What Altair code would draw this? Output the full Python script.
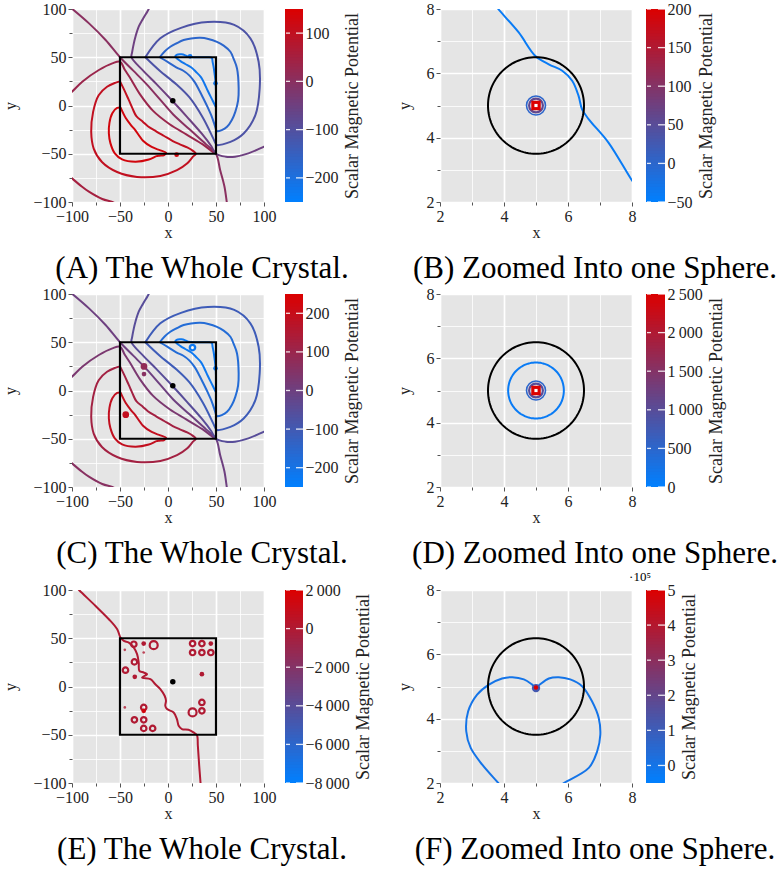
import altair as alt
import numpy as np
import pandas as pd

FONT = "Liberation Serif, DejaVu Serif, serif"
BLUE, RED = "#0080ff", "#dc0000"
PLOT_W, PLOT_H = 192, 193

# ------------------------------------------------------------------ data
# Whole crystal (panels A and C): contour polylines, (x, y)
cr_inner_red = [(-49.5, -2), (-44, -13), (-38, -21), (-34.5, -25), (-26, -36.5), (-17, -43),
                (-8, -46.5), (-2, -49), (-4, -51.5), (-9, -52), (-12, -52.5), (-20, -56),
                (-34, -58.2), (-47.8, -55.8), (-55.4, -49.6), (-60, -39), (-61.6, -29),
                (-61, -18), (-58, -8), (-53, -2.5), (-49.5, -2)]
cr_red2 = [(-50, 25), (-45.5, 16), (-41, 6), (-37, -3), (-33, -11), (-26, -17), (-21, -21.5),
           (-12, -27), (-4, -31.6), (5, -36.8), (13, -40.5), (20, -43.5), (26, -47), (29, -50),
           (26, -53), (19.8, -60.2), (9.4, -67), (-8, -73), (-32.3, -74), (-53, -68.9),
           (-68.8, -58.5), (-77.4, -44.6), (-80, -27.3), (-78, -6.6), (-72.2, 10.7),
           (-63.5, 19.4), (-55, 23.5), (-50, 25)]
cr_crimson_arc = [(-102, -74), (-100, -75.5), (-91, -83), (-82.4, -89.3), (-68.5, -96.9),
                  (-58, -100), (-54, -102)]
cr_d1 = [(-102, 13), (-100, 14.3), (-89.3, 24.7), (-72, 36.8), (-58, 43.7), (-50, 45.5),
         (-45, 37), (-39.7, 29), (-29.3, 11.8), (-15.5, -5.6), (1.7, -19.4), (19, -29.9),
         (36.2, -40.3), (48, -49), (50, -50)]
cr_d0 = [(-102, 102), (-82.3, 85.1), (-65, 67.9), (-50, 50), (-36.2, 36.1), (-22.4, 22.2),
         (-8.6, 6.6), (5.2, -9), (22.4, -24.7), (39.7, -40.3), (50, -50), (54.3, -66.8),
         (58.8, -84), (61.2, -100), (61.5, -102)]
cr_dm1 = [(-19.5, 102), (-20.1, 100), (-26, 90), (-30.5, 81.7), (-33.9, 71.3), (-35.6, 64.4),
          (-37.4, 55), (-38, 50), (-25.9, 36.1), (-12, 22.2), (4.5, 4.9), (20, -12),
          (35, -29), (45, -42), (50, -50), (60, -53), (69.9, -53), (83.7, -49.6),
          (100, -42.7), (102, -42)]
cr_outer_arc = [(-23.6, 50), (-8.6, 36), (8.6, 22), (22.4, 8.3), (36.2, -12.5), (46.6, -33),
                (50, -40), (51, -41), (65, -37.7), (78.8, -29), (91, -10), (95.5, 17.6),
                (94.4, 45.3), (85.8, 69.6), (69, 83.5), (41.5, 86.5), (13.5, 80.5),
                (-8, 69.6), (-23.6, 50)]
cr_arc2 = [(-8.6, 50), (0, 45), (8.6, 39.6), (16, 36), (22.4, 31), (28, 24), (32.8, 15.3),
           (37, 7), (41.4, -2), (45, -10), (48.3, -19.4), (50, -24.7), (51, -26.6),
           (56, -25.5), (61.5, -22.1), (66.5, -15), (70.1, -6.6), (73, 5), (73.6, 17.6),
           (71.9, 38.4), (68.5, 48), (65, 55.7), (58, 62), (51, 66), (42, 69), (33.7, 70.2),
           (24, 69.5), (16.3, 67.8), (9, 64.5), (2.4, 60.9), (-3.5, 56), (-8.6, 50)]
cr_arc3 = [(50, -2), (46.6, 4.9), (41.4, 15.3), (38, 22.5), (34.5, 29.2), (29, 35),
           (24, 39.6), (18, 43), (13, 46), (7.6, 50.6), (9, 52.5), (14, 53), (18, 52),
           (21, 50.5), (30, 50), (40, 50), (45.5, 49.5), (46.5, 45), (47.5, 40), (48.5, 33),
           (49.5, 25), (50, 15), (50, -2)]
crystal_shapes = [cr_inner_red, cr_red2, cr_crimson_arc, cr_d1, cr_d0, cr_dm1,
                  cr_outer_arc, cr_arc2, cr_arc3]
levels_a = [130, 100, 50, 30, 0, -50, -110, -170, -220]
levels_c = [190, 120, 60, 30, 0, -50, -110, -170, -220]

a_spots = [(23, 51), (49.5, 23), (9, -51)]
a_spot_levels = [-220, -220, 130]
c_rings = [(25.5, 44.5)]
c_ring_levels = [-220]
c_spots = [(49.5, 23), (-25, 17)]
c_spot_levels = [-220, 60]
c_blobs = [(-25, 25), (-44, -25)]
c_blob_levels = [80, 190]

crystal_cube = [(-50, 50)]          # x range = y range of the cube
crystal_centre = [(5, 5)]

# One sphere (panels B, D, F)
sphere_centre = (5, 5)
sphere_radius = 1.5
b_line = [(3.75, 8.1), (3.82, 8), (4.46, 7.27), (4.98, 6.54), (5.4, 6.28), (5.82, 6.08),
          (6.13, 5.77), (6.33, 5.3), (6.44, 4.88), (6.65, 4.57), (7.27, 3.84), (8, 2.67),
          (8.1, 2.55)]
b_line_level = -40
b_centre_levels = [0, 60, 200]
d_contour_radius = 0.87
d_contour_level = 100
d_centre_levels = [500, 1000, 2500]
f_line = [(3.9, 1.9), (3.82, 2), (3.32, 2.57), (2.96, 3.09), (2.82, 3.61), (2.88, 4.23),
          (3.16, 4.75), (3.53, 5.06), (3.94, 5.25), (4.26, 5.29), (4.62, 5.22), (4.88, 5.06),
          (5.0, 4.96), (5.12, 5.06), (5.4, 5.25), (5.71, 5.29), (6.07, 5.22), (6.44, 5.01),
          (6.75, 4.54), (6.96, 4.02), (7.01, 3.5), (6.91, 2.98), (6.65, 2.47), (5.87, 2),
          (5.78, 1.94)]
f_line_level = 0
f_centre_levels = [1.2, 5]

# Panel E
e_line = [(-95, 102.5), (-92.7, 100), (-75.4, 83.4), (-61.6, 69.7), (-52.9, 59.3),
          (-49.5, 50.7), (-46, 47.2), (-40.8, 45.5), (-35.6, 40.3), (-32.2, 33.5),
          (-30.5, 24.8), (-29.8, 16.2), (-25.3, 14.5), (-21.8, 12.8), (-27, 9.3),
          (-18.3, 7.6), (-13.2, 2.4), (-8, -2.7), (-3.5, -9.6), (-2.1, -14.8), (-2.8, -20),
          (-1, -23.4), (5.9, -26.9), (9.3, -33.8), (11.1, -40.7), (14.5, -44.1),
          (21.4, -44.8), (26.6, -47.6), (30.1, -50.3), (31.1, -61.4), (32.5, -82),
          (33.9, -100), (34, -102)]
e_line_level = 0
e_rings = [(-35.6, 43.8), (-35, 25.5), (-44.3, 16.9), (25.6, 44.5), (35.3, 44.5),
           (25.6, 35.2), (35.3, 35.2), (44.6, 35.2), (35.3, -16.5), (35.3, -25.2),
           (-25.3, -21.7), (-35, -34.5), (-25.3, -34.5), (-25.3, -43.4), (-16, -43.4)]
e_big_rings = [(-14.9, 42.8), (25.6, -26.9)]
e_dots = [(-25.3, 44.5), (-34.6, 10), (44.6, 44.5), (35.3, 12.8), (-25.3, -25.2)]
e_dot_levels = [0, 0, 0, 0, 1500]
e_tiny = [(-25.3, 35.2), (-45, 38), (-45, -21.7)]

# Colour bars
cb_a = ([-250, 150], [-200, -100, 0, 100])
cb_b = ([-50, 200], [-50, 0, 50, 100, 150, 200])
cb_c = ([-250, 250], [-200, -100, 0, 100, 200])
cb_d = ([0, 2500], [0, 500, 1000, 1500, 2000, 2500])
cb_e = ([-8000, 2000], [-8000, -6000, -4000, -2000, 0, 2000])
cb_f = ([-0.5, 5], [0, 1, 2, 3, 4, 5])

crystal_ticks = [-100, -75, -50, -25, 0, 25, 50, 75, 100]
sphere_ticks = [2, 3, 4, 5, 6, 7, 8]

captions = ["(A) The Whole Crystal.", "(B) Zoomed Into one Sphere.",
            "(C) The Whole Crystal.", "(D) Zoomed Into one Sphere.",
            "(E) The Whole Crystal.", "(F) Zoomed Into one Sphere."]
cb_title = "Scalar Magnetic Potential"


# ------------------------------------------------------------------ helpers
def lines_df(shapes, levels):
    rows = []
    for k, (pts, lev) in enumerate(zip(shapes, levels)):
        for i, (x, y) in enumerate(pts):
            rows.append({"line": k, "i": i, "x": float(x), "y": float(y), "level": lev})
    return pd.DataFrame(rows)


def pts_df(pts, levels):
    return pd.DataFrame({"x": [p[0] for p in pts], "y": [p[1] for p in pts],
                         "level": list(levels)})


def circle(center, r, n=120):
    t = np.linspace(0, 2 * np.pi, n + 1)
    return list(zip(center[0] + r * np.cos(t), center[1] + r * np.sin(t)))


def pos_axis(vals, step, orient, title):
    cond = f"datum.value % {step} == 0"
    return alt.Axis(
        orient=orient, title=title, values=vals, format="d",
        labelExpr=f"{cond} ? datum.label : ''",
        labelFlush=False, labelOverlap=False,
        grid=True, gridColor="white",
        gridWidth={"condition": {"test": cond, "value": 1.7}, "value": 0.8},
        tickSize={"condition": {"test": cond, "value": 4}, "value": 3},
        tickColor="#555", domain=False, labelPadding=2,
        titlePadding=14 if orient == "left" else 0,
    )


MARKS = {
    "ring": dict(shape="circle", filled=False, size=30, strokeWidth=2.2, opacity=1),
    "bigring": dict(shape="circle", filled=False, size=64, strokeWidth=2.2, opacity=1),
    "dot": dict(shape="circle", filled=True, size=22, opacity=1),
    "tiny": dict(shape="circle", filled=True, size=7, opacity=0.8),
    "blob": dict(shape="circle", filled=True, size=45, opacity=1),
    "ring19": dict(shape="circle", filled=False, size=361, strokeWidth=1.6, opacity=1),
    "ring14": dict(shape="circle", filled=False, size=190, strokeWidth=2.2, opacity=1),
    "sq9": dict(shape="square", filled=True, size=90, opacity=1),
    "disk8": dict(shape="circle", filled=True, size=70, opacity=1),
    "dot4": dict(shape="circle", filled=True, size=20, opacity=1),
}


def panel(dom, vals, step, lines, marks, cube, centre, sphere, white_centre,
          cb, cb_gap, cb_w, caption, cap_dx, extra_text=None):
    ps = alt.Scale(domain=dom, nice=False, zero=False)
    ax_x = pos_axis(vals, step, "bottom", "x")
    ax_y = pos_axis(vals, step, "left", "y")
    (lo, hi), cb_vals = cb
    cs = alt.Scale(domain=[lo, hi], range=[BLUE, RED], interpolate="rgb", clamp=True)
    X = alt.X("x:Q", scale=ps, axis=ax_x)
    Y = alt.Y("y:Q", scale=ps, axis=ax_y)
    C = alt.Color("level:Q", scale=cs, legend=None)

    main = []
    for shapes, levels in lines:
        main.append(alt.Chart(lines_df(shapes, levels))
                    .mark_line(strokeWidth=2, clip=True, interpolate="catmull-rom")
                    .encode(X, Y, C, detail="line:N", order="i:Q"))
    for pts, levels, kind in marks:
        main.append(alt.Chart(pts_df(pts, levels)).mark_point(**MARKS[kind]).encode(X, Y, C))
    if white_centre:
        main.append(alt.Chart(pd.DataFrame({"x": [sphere_centre[0]], "y": [sphere_centre[1]]}))
                    .mark_point(shape="square", filled=True, size=10, color="white", opacity=1)
                    .encode(X, Y))
    if cube:
        lo_c, hi_c = cube[0]
        main.append(alt.Chart(pd.DataFrame({"x": [lo_c], "x2": [hi_c], "y": [lo_c], "y2": [hi_c]}))
                    .mark_rect(fillOpacity=0, stroke="black", strokeWidth=2.2)
                    .encode(X, alt.X2("x2:Q"), Y, alt.Y2("y2:Q")))
    if sphere:
        main.append(alt.Chart(lines_df([circle(sphere_centre, sphere_radius)], [0]))
                    .mark_line(strokeWidth=2, color="black", clip=True)
                    .encode(X, Y, detail="line:N", order="i:Q"))
    if centre:
        main.append(alt.Chart(pts_df(centre, [0])).mark_circle(size=30, color="black", opacity=1)
                    .encode(X, Y))

    # colour bar: overlapping gradient bins + white tick marks on both inner edges
    n_bins = 64
    edges = np.linspace(lo, hi, n_bins + 1)
    overlap = (hi - lo) / n_bins * 0.6
    cbdf = pd.DataFrame({"lo": edges[:-1], "hi": np.minimum(edges[1:] + overlap, hi),
                         "level": (edges[:-1] + edges[1:]) / 2, "kind": "bin"})
    tickdf = pd.DataFrame({"lo": cb_vals, "hi": cb_vals, "level": cb_vals, "kind": "tick"})
    cbdata = pd.concat([cbdf, tickdf], ignore_index=True)
    cys = alt.Scale(domain=[lo, hi], nice=False, zero=False)
    cb_axis = alt.Axis(
        orient="right", offset=cb_gap + cb_w, values=cb_vals, tickCount=len(cb_vals),
        labelExpr="replace(format(datum.value, ','), ',', '\u2009')",
        labelOverlap=False, labelFlush=False, labelBound=False,
        grid=False, domain=False, ticks=False,
        labelPadding=2, title=cb_title, titleAngle=270, titleBaseline="top",
        titlePadding=5, titleFontSize=18,
    )
    x0 = PLOT_W + cb_gap
    CY = alt.Y("lo:Q", scale=cys, axis=cb_axis)
    base_cb = alt.Chart(cbdata)
    bar = base_cb.transform_filter("datum.kind == 'bin'").mark_rect(strokeWidth=0).encode(
        y=CY, y2="hi:Q",
        x=alt.value(x0), x2=alt.value(x0 + cb_w),
        color=C)
    tick_l = base_cb.transform_filter("datum.kind == 'tick'").mark_rule(
        color="white", strokeWidth=1.3, opacity=0.85).encode(
        y=CY, x=alt.value(x0 + 1), x2=alt.value(x0 + 5))
    tick_r = base_cb.transform_filter("datum.kind == 'tick'").mark_rule(
        color="white", strokeWidth=1.3, opacity=0.85).encode(
        y=CY, x=alt.value(x0 + cb_w - 7), x2=alt.value(x0 + cb_w))
    cb_layers = [bar, tick_l, tick_r]
    if extra_text:
        cb_layers.append(alt.Chart(pd.DataFrame({"t": [extra_text]}))
                         .mark_text(font=FONT, fontSize=13, align="center", baseline="middle")
                         .encode(text="t:N", x=alt.value(PLOT_W + 8), y=alt.value(-13)))

    return (alt.layer(alt.layer(*main), alt.layer(*cb_layers))
            .resolve_scale(y="independent")
            .properties(width=PLOT_W, height=PLOT_H,
                        title=alt.TitleParams(caption, orient="bottom", anchor="middle",
                                              frame="group", dx=cap_dx, offset=14,
                                              fontSize=31, font=FONT, fontWeight="normal",
                                              color="black")))


pA = panel([-100, 100], crystal_ticks, 50,
           [(crystal_shapes, levels_a)],
           [(a_spots, a_spot_levels, "dot")],
           crystal_cube, crystal_centre, False, False, cb_a, 21, 18, captions[0], 34)
pB = panel([2, 8], sphere_ticks, 2,
           [([b_line], [b_line_level])],
           [([sphere_centre], [b_centre_levels[0]], "ring19"),
            ([sphere_centre], [b_centre_levels[1]], "ring14"),
            ([sphere_centre], [b_centre_levels[2]], "sq9")],
           None, None, True, True, cb_b, 14, 19, captions[1], 59)
pC = panel([-100, 100], crystal_ticks, 50,
           [(crystal_shapes, levels_c)],
           [(c_rings, c_ring_levels, "ring"), (c_spots, c_spot_levels, "dot"),
            (c_blobs, c_blob_levels, "blob")],
           crystal_cube, crystal_centre, False, False, cb_c, 21, 18, captions[2], 34)
pD = panel([2, 8], sphere_ticks, 2,
           [([circle(sphere_centre, d_contour_radius)], [d_contour_level])],
           [([sphere_centre], [d_centre_levels[0]], "ring19"),
            ([sphere_centre], [d_centre_levels[1]], "ring14"),
            ([sphere_centre], [d_centre_levels[2]], "sq9")],
           None, None, True, True, cb_d, 14, 19, captions[3], 59)
pE = panel([-100, 100], crystal_ticks, 50,
           [([e_line], [e_line_level])],
           [(e_rings, [e_line_level] * len(e_rings), "ring"),
            (e_big_rings, [e_line_level] * len(e_big_rings), "bigring"),
            (e_dots, e_dot_levels, "dot"),
            (e_tiny, [e_line_level] * len(e_tiny), "tiny")],
           crystal_cube, crystal_centre, False, False, cb_e, 21, 18, captions[4], 34)
pF = panel([2, 8], sphere_ticks, 2,
           [([f_line], [f_line_level])],
           [([(5, 4.95)], [f_centre_levels[0]], "disk8"),
            ([(5, 4.97)], [f_centre_levels[1]], "dot4")],
           None, None, True, False, cb_f, 14, 19, captions[5], 59, extra_text="\u00b710\u2075")

rows = [alt.hconcat(a, b, spacing=176, bounds="flush")
        .resolve_scale(color="independent")
        for a, b in [(pA, pB), (pC, pD), (pE, pF)]]

chart = (alt.vconcat(*rows, spacing=0)
         .resolve_scale(color="independent")
         .properties(padding={"left": 2, "right": 0, "top": 0, "bottom": 0})
         .configure_view(stroke="transparent", fill="#e5e5e5")
         .configure_axis(labelFont=FONT, labelFontSize=16, labelColor="#222",
                         titleFont=FONT, titleFontSize=16, titleFontWeight="normal",
                         titleColor="#222", labelOverlap=False)
         .configure_title(font=FONT, fontWeight="normal", color="black"))

chart.save("out.html", embed_options={"renderer": "svg", "actions": False})
